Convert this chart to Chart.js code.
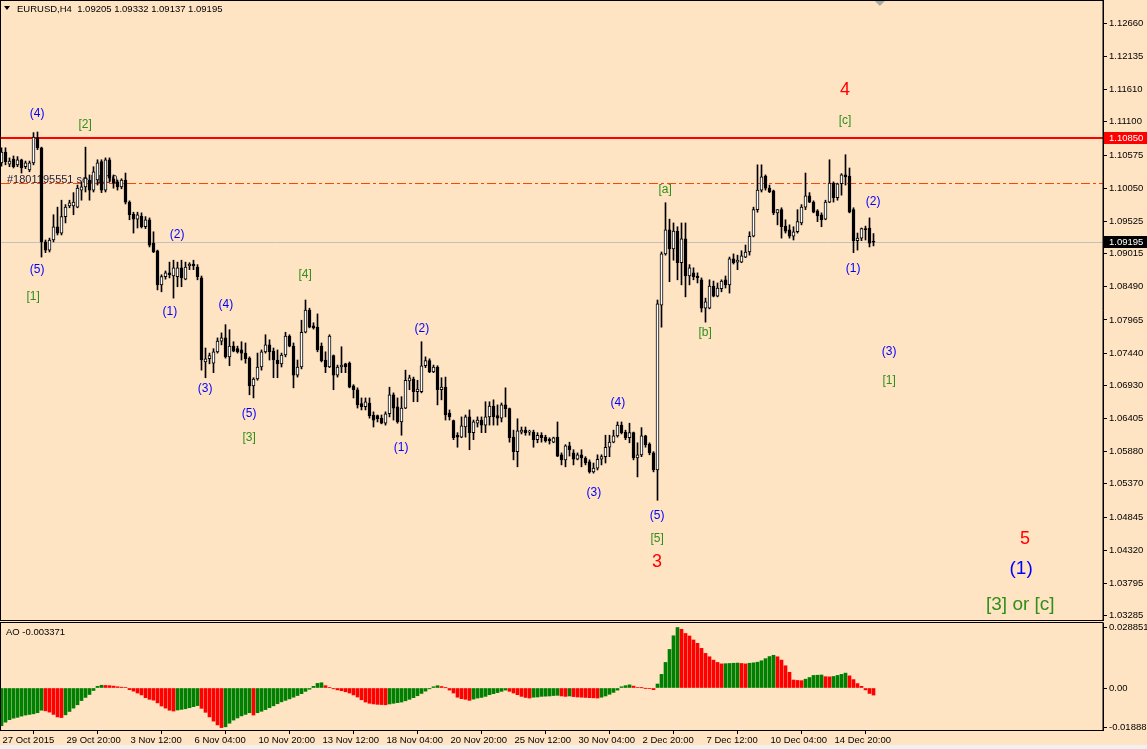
<!DOCTYPE html>
<html>
<head>
<meta charset="utf-8">
<title>EURUSD,H4</title>
<script src="https://cdn.jsdelivr.net/npm/chart.js@4.4.0/dist/chart.umd.min.js"></script>
<style>
    html, body { margin: 0; padding: 0; background: #ffe4c4; }
    body { width: 1147px; height: 749px; position: relative; overflow: hidden; }
    #priceChart { position: absolute; left: 0; top: 0; }
    #aoChart { position: absolute; left: 0; top: 621px; }
    #statusStrip { position: absolute; left: 0; top: 745px; width: 1147px; height: 4px; background: #f0f0f0; }
</style>
</head>
<body>
<canvas id="priceChart" width="1147" height="621"></canvas>
<canvas id="aoChart" width="1147" height="124"></canvas>
<div id="statusStrip"></div>
<script>
// H4 candles, 27 Oct 2015 04:00 onwards
const opens = [
    1.1045, 1.1062, 1.1043, 1.1051, 1.1042, 1.1050, 1.1039, 1.1034, 1.1045, 1.1085,
    1.1069, 1.0920, 1.0907, 1.0923, 1.0944, 1.0934, 1.0960, 1.0977, 1.0977, 1.0975,
    1.1002, 1.1007, 1.1018, 1.1002, 1.1018, 1.1047, 1.1002, 1.1050, 1.1020, 1.1015,
    1.1007, 1.1018, 1.0983, 1.0964, 1.0956, 1.0961, 1.0944, 1.0955, 1.0918, 1.0906,
    1.0852, 1.0865, 1.0871, 1.0866, 1.0865, 1.0879, 1.0861, 1.0882, 1.0885, 1.0880,
    1.0863, 1.0730, 1.0735, 1.0728, 1.0746, 1.0763, 1.0768, 1.0738, 1.0755, 1.0751,
    1.0749, 1.0744, 1.0736, 1.0692, 1.0703, 1.0722, 1.0746, 1.0757, 1.0747, 1.0733,
    1.0727, 1.0741, 1.0771, 1.0755, 1.0709, 1.0722, 1.0777, 1.0812, 1.0787, 1.0785,
    1.0755, 1.0733, 1.0722, 1.0740, 1.0709, 1.0722, 1.0727, 1.0728, 1.0692, 1.0686,
    1.0664, 1.0659, 1.0665, 1.0646, 1.0645, 1.0641, 1.0633, 1.0648, 1.0678, 1.0659,
    1.0635, 1.0657, 1.0700, 1.0703, 1.0683, 1.0683, 1.0724, 1.0732, 1.0714, 1.0722,
    1.0686, 1.0690, 1.0649, 1.0637, 1.0614, 1.0611, 1.0627, 1.0643, 1.0618, 1.0633,
    1.0638, 1.0630, 1.0643, 1.0660, 1.0645, 1.0641, 1.0662, 1.0656, 1.0611, 1.0588,
    1.0619, 1.0622, 1.0619, 1.0619, 1.0607, 1.0614, 1.0611, 1.0608, 1.0603, 1.0611,
    1.0583, 1.0575, 1.0597, 1.0586, 1.0576, 1.0583, 1.0578, 1.0572, 1.0556, 1.0562,
    1.0576, 1.0580, 1.0595, 1.0603, 1.0613, 1.0630, 1.0619, 1.0610, 1.0618, 1.0578,
    1.0583, 1.0613, 1.0600, 1.0586, 1.0559, 1.0820, 1.0901, 1.0939, 1.0909, 1.0937,
    1.0887, 1.0925, 1.0866, 1.0871, 1.0866, 1.0860, 1.0815, 1.0815, 1.0850, 1.0834,
    1.0846, 1.0860, 1.0852, 1.0893, 1.0888, 1.0888, 1.0896, 1.0904, 1.0929, 1.0971,
    1.1002, 1.1024, 1.1005, 1.1001, 1.0966, 1.0971, 1.0945, 1.0939, 1.0929, 1.0936,
    1.0950, 1.0975, 1.0993, 1.0983, 1.0969, 1.0963, 1.0956, 1.0983, 1.1013, 1.0990,
    1.1012, 1.1026, 1.1024, 1.0971, 1.0922, 1.0926, 1.0941, 1.0942, 1.09205
];
const highs = [
    1.1069, 1.1069, 1.1053, 1.1056, 1.1055, 1.1051, 1.1048, 1.1048, 1.1093, 1.1094,
    1.1070, 1.0923, 1.0926, 1.0963, 1.0975, 1.0986, 1.0979, 1.0986, 1.0998, 1.1010,
    1.1015, 1.1070, 1.1026, 1.1039, 1.1050, 1.1050, 1.1053, 1.1053, 1.1026, 1.1018,
    1.1020, 1.1029, 1.0985, 1.0967, 1.0967, 1.0966, 1.0960, 1.0958, 1.0936, 1.0907,
    1.0868, 1.0874, 1.0888, 1.0891, 1.0888, 1.0891, 1.0888, 1.0887, 1.0891, 1.0884,
    1.0866, 1.0752, 1.0744, 1.0751, 1.0768, 1.0776, 1.0789, 1.0781, 1.0762, 1.0755,
    1.0762, 1.0760, 1.0738, 1.0705, 1.0744, 1.0749, 1.0773, 1.0765, 1.0752, 1.0749,
    1.0744, 1.0777, 1.0773, 1.0760, 1.0733, 1.0796, 1.0828, 1.0815, 1.0792, 1.0806,
    1.0760, 1.0746, 1.0773, 1.0741, 1.0725, 1.0754, 1.0728, 1.0730, 1.0694, 1.0689,
    1.0673, 1.0673, 1.0673, 1.0651, 1.0646, 1.0646, 1.0651, 1.0690, 1.0681, 1.0673,
    1.0675, 1.0717, 1.0709, 1.0706, 1.0701, 1.0762, 1.0738, 1.0735, 1.0725, 1.0724,
    1.0705, 1.0706, 1.0654, 1.0638, 1.0618, 1.0643, 1.0646, 1.0654, 1.0638, 1.0643,
    1.0643, 1.0667, 1.0667, 1.0670, 1.0662, 1.0665, 1.0689, 1.0657, 1.0622, 1.0640,
    1.0627, 1.0627, 1.0622, 1.0622, 1.0618, 1.0618, 1.0614, 1.0610, 1.0611, 1.0635,
    1.0586, 1.0599, 1.0603, 1.0591, 1.0586, 1.0591, 1.0580, 1.0575, 1.0570, 1.0583,
    1.0583, 1.0614, 1.0614, 1.0622, 1.0635, 1.0635, 1.0622, 1.0633, 1.0619, 1.0602,
    1.0626, 1.0614, 1.0602, 1.0588, 1.0828, 1.0904, 1.0982, 1.0956, 1.0950, 1.0944,
    1.0950, 1.0950, 1.0884, 1.0879, 1.0871, 1.0863, 1.0831, 1.0860, 1.0858, 1.0855,
    1.0860, 1.0866, 1.0896, 1.0901, 1.0899, 1.0906, 1.0915, 1.0936, 1.0975, 1.1042,
    1.1042, 1.1026, 1.1010, 1.1002, 1.0971, 1.0974, 1.0955, 1.0947, 1.0944, 1.0971,
    1.0979, 1.1029, 1.0998, 1.0985, 1.0971, 1.0966, 1.0986, 1.1050, 1.1015, 1.1013,
    1.1028, 1.1058, 1.1037, 1.0974, 1.0934, 1.0942, 1.0945, 1.0958, 1.09332
];
const lows = [
    1.1040, 1.1042, 1.1039, 1.1037, 1.1039, 1.1029, 1.1036, 1.1031, 1.1042, 1.1066,
    1.0896, 1.0903, 1.0904, 1.0920, 1.0931, 1.0931, 1.0950, 1.0974, 1.0963, 1.0974,
    1.0986, 1.0999, 1.0986, 1.0999, 1.1010, 1.0998, 1.0999, 1.1015, 1.1005, 1.1002,
    1.1004, 1.0980, 1.0955, 1.0934, 1.0942, 1.0942, 1.0941, 1.0912, 1.0903, 1.0844,
    1.0841, 1.0861, 1.0863, 1.0831, 1.0849, 1.0849, 1.0860, 1.0876, 1.0876, 1.0860,
    1.0717, 1.0705, 1.0727, 1.0713, 1.0744, 1.0757, 1.0736, 1.0724, 1.0746, 1.0744,
    1.0733, 1.0728, 1.0678, 1.0673, 1.0701, 1.0717, 1.0744, 1.0733, 1.0705, 1.0705,
    1.0722, 1.0738, 1.0754, 1.0689, 1.0706, 1.0719, 1.0776, 1.0784, 1.0782, 1.0746,
    1.0730, 1.0713, 1.0721, 1.0686, 1.0706, 1.0713, 1.0713, 1.0689, 1.0673, 1.0657,
    1.0654, 1.0654, 1.0641, 1.0627, 1.0635, 1.0632, 1.0630, 1.0643, 1.0638, 1.0633,
    1.0614, 1.0656, 1.0686, 1.0667, 1.0667, 1.0681, 1.0721, 1.0713, 1.0713, 1.0662,
    1.0670, 1.0638, 1.0638, 1.0607, 1.0595, 1.0610, 1.0611, 1.0591, 1.0607, 1.0627,
    1.0618, 1.0618, 1.0630, 1.0630, 1.0630, 1.0635, 1.0643, 1.0603, 1.0575, 1.0564,
    1.0616, 1.0614, 1.0614, 1.0595, 1.0602, 1.0603, 1.0603, 1.0600, 1.0602, 1.0580,
    1.0567, 1.0564, 1.0581, 1.0567, 1.0575, 1.0564, 1.0567, 1.0554, 1.0554, 1.0559,
    1.0567, 1.0570, 1.0580, 1.0602, 1.0611, 1.0616, 1.0607, 1.0602, 1.0575, 1.0548,
    1.0580, 1.0595, 1.0583, 1.0556, 1.0511, 1.0785, 1.0899, 1.0857, 1.0891, 1.0860,
    1.0852, 1.0833, 1.0852, 1.0860, 1.0855, 1.0809, 1.0793, 1.0814, 1.0833, 1.0833,
    1.0841, 1.0847, 1.0839, 1.0885, 1.0876, 1.0887, 1.0895, 1.0899, 1.0928, 1.0967,
    1.0999, 1.1002, 1.0998, 1.0963, 1.0947, 1.0926, 1.0934, 1.0926, 1.0923, 1.0934,
    1.0947, 1.0971, 1.0982, 1.0966, 1.0952, 1.0944, 1.0955, 1.0982, 1.0983, 1.0986,
    1.0994, 1.1010, 1.0966, 1.0903, 1.0907, 1.0922, 1.0923, 1.0912, 1.09137
];
const closes = [
    1.1062, 1.1047, 1.1048, 1.1039, 1.1050, 1.1037, 1.1045, 1.1045, 1.1086, 1.1069,
    1.0920, 1.0907, 1.0923, 1.0944, 1.0934, 1.0960, 1.0975, 1.0982, 1.0983, 1.1005,
    1.1007, 1.1021, 1.1002, 1.1031, 1.1045, 1.1002, 1.1050, 1.1021, 1.1013, 1.1007,
    1.1018, 1.0983, 1.0963, 1.0956, 1.0963, 1.0944, 1.0955, 1.0915, 1.0904, 1.0852,
    1.0865, 1.0871, 1.0868, 1.0879, 1.0879, 1.0863, 1.0880, 1.0885, 1.0882, 1.0865,
    1.0733, 1.0735, 1.0740, 1.0746, 1.0763, 1.0768, 1.0738, 1.0755, 1.0747, 1.0746,
    1.0744, 1.0735, 1.0692, 1.0703, 1.0722, 1.0746, 1.0757, 1.0746, 1.0733, 1.0727,
    1.0741, 1.0771, 1.0755, 1.0709, 1.0722, 1.0777, 1.0812, 1.0785, 1.0784, 1.0749,
    1.0732, 1.0722, 1.0771, 1.0709, 1.0722, 1.0725, 1.0722, 1.0690, 1.0686, 1.0662,
    1.0659, 1.0667, 1.0645, 1.0638, 1.0640, 1.0633, 1.0648, 1.0678, 1.0657, 1.0635,
    1.0657, 1.0701, 1.0705, 1.0683, 1.0687, 1.0724, 1.0732, 1.0714, 1.0722, 1.0686,
    1.0690, 1.0646, 1.0643, 1.0610, 1.0611, 1.0629, 1.0643, 1.0618, 1.0635, 1.0638,
    1.0630, 1.0643, 1.0660, 1.0643, 1.0641, 1.0662, 1.0656, 1.0610, 1.0588, 1.0621,
    1.0622, 1.0618, 1.0619, 1.0607, 1.0614, 1.0610, 1.0605, 1.0605, 1.0610, 1.0581,
    1.0575, 1.0597, 1.0591, 1.0576, 1.0583, 1.0578, 1.0570, 1.0556, 1.0562, 1.0576,
    1.0580, 1.0595, 1.0603, 1.0613, 1.0630, 1.0618, 1.0610, 1.0618, 1.0578, 1.0583,
    1.0613, 1.0599, 1.0586, 1.0559, 1.0822, 1.0901, 1.0939, 1.0909, 1.0937, 1.0887,
    1.0925, 1.0866, 1.0879, 1.0865, 1.0863, 1.0815, 1.0825, 1.0850, 1.0834, 1.0847,
    1.0858, 1.0852, 1.0893, 1.0887, 1.0891, 1.0898, 1.0904, 1.0929, 1.0971, 1.1002,
    1.1023, 1.1005, 1.0999, 1.0966, 1.0971, 1.0944, 1.0937, 1.0929, 1.0936, 1.0952,
    1.0975, 1.0993, 1.0983, 1.0967, 1.0961, 1.0955, 1.0983, 1.1013, 1.0990, 1.1012,
    1.1026, 1.1023, 1.0967, 1.0922, 1.0926, 1.0941, 1.0939, 1.0918, 1.09195
];

// Awesome Oscillator, one value per candle
const aoValues = [
    -0.0180, -0.0163, -0.0151, -0.0144, -0.0140, -0.0134, -0.0129, -0.0126, -0.0123, -0.0118,
    -0.0106, -0.0109, -0.0115, -0.0126, -0.0138, -0.0141, -0.0128, -0.0112, -0.0096, -0.0080,
    -0.0060, -0.0045, -0.0031, -0.0012, 0.0008, 0.0013, 0.0012, 0.0011, 0.0009, 0.0006,
    0.0004, 0.0002, -0.0008, -0.0015, -0.0024, -0.0033, -0.0046, -0.0054, -0.0058, -0.0071,
    -0.0086, -0.0096, -0.0106, -0.0110, -0.0105, -0.0102, -0.0099, -0.0094, -0.0089, -0.0084,
    -0.0097, -0.0116, -0.0138, -0.0158, -0.0176, -0.01888, -0.0185, -0.0168, -0.0153, -0.0143,
    -0.0133, -0.0126, -0.0118, -0.0129, -0.0118, -0.0111, -0.0103, -0.0094, -0.0085, -0.0075,
    -0.0066, -0.0059, -0.0052, -0.0044, -0.0036, -0.0027, -0.0016, -0.0006, 0.0008, 0.0022,
    0.0025, 0.0011, 0.0003, -0.0004, -0.0009, -0.0013, -0.0018, -0.0024, -0.0033, -0.0043,
    -0.0056, -0.0067, -0.0073, -0.0076, -0.0078, -0.0079, -0.0080, -0.0076, -0.0073, -0.0070,
    -0.0067, -0.0061, -0.0054, -0.0046, -0.0037, -0.0026, -0.0015, -0.0004, 0.0006, 0.0011,
    0.0007, 0.0001, -0.0010, -0.0024, -0.0044, -0.0051, -0.0054, -0.0059, -0.0053, -0.0048,
    -0.0045, -0.0040, -0.0032, -0.0027, -0.0022, -0.0016, -0.0010, -0.0016, -0.0024, -0.0032,
    -0.0040, -0.0045, -0.0048, -0.0044, -0.0043, -0.0040, -0.0039, -0.0038, -0.0036, -0.0035,
    -0.0038, -0.0040, -0.0038, -0.0041, -0.0043, -0.0044, -0.0045, -0.0046, -0.0047, -0.0048,
    -0.0044, -0.0038, -0.0030, -0.0021, -0.0010, 0.0006, 0.0011, 0.0015, 0.0009, 0.0002,
    0.0001, -0.0001, -0.0003, -0.0008, 0.0019, 0.0065, 0.0122, 0.0184, 0.0249, 0.028851,
    0.0280, 0.0260, 0.0248, 0.0229, 0.0213, 0.0189, 0.0165, 0.0149, 0.0133, 0.0122,
    0.0115, 0.0116, 0.0117, 0.0118, 0.0119, 0.0117, 0.0115, 0.0118, 0.0120, 0.0123,
    0.0130, 0.0140, 0.0150, 0.0156, 0.0149, 0.0133, 0.0106, 0.0075, 0.0038, 0.0036,
    0.0035, 0.0042, 0.0050, 0.0060, 0.0061, 0.0062, 0.0054, 0.0053, 0.0055, 0.0060,
    0.0065, 0.0071, 0.0058, 0.0040, 0.0021, 0.0008, -0.0009, -0.0026, -0.003371
];

const timeLabels = [
    "27 Oct 2015", "29 Oct 20:00", "3 Nov 12:00", "6 Nov 04:00", "10 Nov 20:00",
    "13 Nov 12:00", "18 Nov 04:00", "20 Nov 20:00", "25 Nov 12:00", "30 Nov 04:00",
    "2 Dec 20:00", "7 Dec 12:00", "10 Dec 04:00", "14 Dec 20:00"
];
const barsPerTimeLabel = 16;

const priceTicks = [
    1.12660, 1.12135, 1.11610, 1.11100, 1.10575, 1.10050, 1.09525, 1.09015, 1.08490, 1.07965,
    1.07440, 1.06930, 1.06405, 1.05880, 1.05370, 1.04845, 1.04320, 1.03795, 1.03285
];
const aoTicks = [0.028851, 0, -0.01888];
const aoTickLabels = ["0.028851", "0.00", "-0.01888"];

const resistanceLevel = 1.10850;
const sellOrderPrice = 1.1013;
const sellOrderText = "#1801195551 sell 1.00";
const bidPrice = 1.09195;
const headerText = "EURUSD,H4  1.09205 1.09332 1.09137 1.09195";
const aoHeaderText = "AO -0.003371";

// Elliott wave marks: text, bar index, price, degree
const waveLabels = [
    ["(4)", 8.9, 1.1123, "minor"],
    ["[2]", 20.9, 1.1105, "intermediate"],
    ["(5)", 8.9, 1.0876, "minor"],
    ["[1]", 7.9, 1.0834, "intermediate"],
    ["(2)", 43.9, 1.0931, "minor"],
    ["(1)", 42.1, 1.0809, "minor"],
    ["(4)", 56.1, 1.0820, "minor"],
    ["[4]", 75.9, 1.0868, "intermediate"],
    ["(3)", 50.9, 1.0687, "minor"],
    ["(5)", 61.9, 1.0648, "minor"],
    ["[3]", 61.9, 1.0610, "intermediate"],
    ["(2)", 105.1, 1.0782, "minor"],
    ["(1)", 99.9, 1.0594, "minor"],
    ["(4)", 154.1, 1.0665, "minor"],
    ["(3)", 148.1, 1.0523, "minor"],
    ["(5)", 163.9, 1.0486, "minor"],
    ["[5]", 163.9, 1.0451, "intermediate"],
    ["3", 163.9, 1.0413, "primary"],
    ["[a]", 165.9, 1.1002, "intermediate"],
    ["[b]", 175.9, 1.0777, "intermediate"],
    ["4", 210.9, 1.1161, "primary"],
    ["[c]", 210.9, 1.1112, "intermediate"],
    ["(2)", 217.9, 1.0983, "minor"],
    ["(1)", 212.9, 1.0877, "minor"],
    ["(3)", 221.9, 1.0746, "minor"],
    ["[1]", 221.9, 1.0701, "intermediate"],
    ["5", 255.9, 1.0450, "primary"],
    ["(1)", 254.9, 1.0402, "minorBig"],
    ["[3] or [c]", 254.7, 1.0345, "intermediateBig"]
];

const FONT = "Liberation Sans";
const waveStyles = {
    minor: { color: "#0000ff", size: 12 },
    intermediate: { color: "#2f8f1a", size: 12 },
    primary: { color: "#ff0000", size: 18 },
    minorBig: { color: "#0000ff", size: 19 },
    intermediateBig: { color: "#2f8f1a", size: 19 }
};

Chart.defaults.font.family = FONT;

// shared horizontal axis: 4px per bar, leaves empty space on the right like the terminal
const xMin = -0.125;
const xMax = 275.375;
const axisWidth = 44;

function crisp(v) {
    return Math.round(v) + 0.5;
}

// keep edge tick labels from shrinking the plot area
function noEdgePadding(axis) {
    axis.paddingTop = 0;
    axis.paddingBottom = 0;
    axis.paddingLeft = 0;
    axis.paddingRight = 0;
}

const priceOverlay = {
    id: "priceOverlay",
    beforeDatasetsDraw(chart) {
        const { ctx, chartArea: area, scales: { y } } = chart;
        ctx.save();

        // bid line
        ctx.strokeStyle = "#c0c0c0";
        ctx.lineWidth = 1;
        ctx.beginPath();
        ctx.moveTo(area.left, crisp(y.getPixelForValue(bidPrice)));
        ctx.lineTo(area.right, crisp(y.getPixelForValue(bidPrice)));
        ctx.stroke();

        // order line + its label
        const sy = crisp(y.getPixelForValue(sellOrderPrice));
        ctx.strokeStyle = "#ff4500";
        ctx.setLineDash([9, 3, 3, 3]);
        ctx.beginPath();
        ctx.moveTo(area.left, sy);
        ctx.lineTo(area.right, sy);
        ctx.stroke();
        ctx.setLineDash([]);
        ctx.font = "11px " + FONT;
        ctx.fillStyle = "#1c1c3a";
        ctx.textAlign = "left";
        ctx.textBaseline = "bottom";
        ctx.fillText(sellOrderText, 7, sy + 2);

        // resistance line
        const ry = Math.round(y.getPixelForValue(resistanceLevel));
        ctx.fillStyle = "#ff0000";
        ctx.fillRect(area.left, ry - 1, area.right - area.left, 2);
        ctx.restore();
    },
    afterDatasetsDraw(chart) {
        const { ctx, scales: { x, y } } = chart;
        ctx.save();
        ctx.textAlign = "center";
        ctx.textBaseline = "middle";
        waveLabels.forEach(([text, idx, price, degree]) => {
            const style = waveStyles[degree];
            ctx.font = style.size + "px " + FONT;
            ctx.fillStyle = style.color;
            ctx.fillText(text, x.getPixelForValue(idx), y.getPixelForValue(price));
        });
        ctx.restore();
    },
    afterDraw(chart) {
        const { ctx, chartArea: area, scales: { x, y } } = chart;
        ctx.save();

        // frame
        ctx.strokeStyle = "#000000";
        ctx.lineWidth = 1;
        ctx.strokeRect(0.5, 0.5, area.right - 0.5, area.bottom);

        // price boxes on the axis
        const boxes = [[resistanceLevel, "#ff0000"], [bidPrice, "#000000"]];
        ctx.font = "9.5px " + FONT;
        ctx.textAlign = "left";
        ctx.textBaseline = "middle";
        boxes.forEach(([price, color]) => {
            const py = Math.round(y.getPixelForValue(price));
            ctx.fillStyle = color;
            ctx.fillRect(area.right + 1, py - 6, axisWidth, 12);
            ctx.fillStyle = "#ffffff";
            ctx.fillText(price.toFixed(5), area.right + 6, py);
        });

        // chart shift marker
        const mx = x.getPixelForValue(219.6);
        ctx.fillStyle = "#a8a8a8";
        ctx.beginPath();
        ctx.moveTo(mx - 5, 1);
        ctx.lineTo(mx + 5, 1);
        ctx.lineTo(mx, 6);
        ctx.closePath();
        ctx.fill();

        // symbol header
        ctx.fillStyle = "#000000";
        ctx.beginPath();
        ctx.moveTo(4, 6);
        ctx.lineTo(10, 6);
        ctx.lineTo(7, 10);
        ctx.closePath();
        ctx.fill();
        ctx.font = "9.5px " + FONT;
        ctx.fillText(headerText, 17, 9);
        ctx.restore();
    }
};

const aoOverlay = {
    id: "aoOverlay",
    afterDraw(chart) {
        const { ctx, chartArea: area } = chart;
        ctx.save();
        ctx.strokeStyle = "#000000";
        ctx.lineWidth = 1;
        ctx.strokeRect(0.5, area.top - 0.5, area.right - 0.5, area.bottom - area.top + 1);
        ctx.fillStyle = "#000000";
        ctx.font = "9.5px " + FONT;
        ctx.textAlign = "left";
        ctx.textBaseline = "middle";
        ctx.fillText(aoHeaderText, 6, area.top + 9);
        ctx.restore();
    }
};

const axisFont = { family: FONT, size: 9.5 };

const candleBodies = opens.map((o, i) => ({ x: i, y: [o, closes[i]] }));
const candleWicks = lows.map((l, i) => ({ x: i, y: [l, highs[i]] }));
const bodyColors = opens.map((o, i) => (closes[i] >= o ? "#ffffff" : "#000000"));

new Chart(document.getElementById("priceChart"), {
    type: "bar",
    data: {
        datasets: [
            {
                label: "bodies",
                data: candleBodies,
                backgroundColor: bodyColors,
                borderColor: "#000000",
                borderWidth: 1,
                borderSkipped: false,
                barThickness: 3,
                minBarLength: 1,
                grouped: false,
                order: 0
            },
            {
                label: "wicks",
                data: candleWicks,
                backgroundColor: "#000000",
                barThickness: 1,
                grouped: false,
                order: 1
            }
        ]
    },
    options: {
        responsive: false,
        animation: false,
        layout: { padding: { left: 1, top: 0, right: 0, bottom: 1 }, autoPadding: false },
        plugins: { legend: { display: false }, tooltip: { enabled: false } },
        scales: {
            x: { type: "linear", min: xMin, max: xMax, offset: false, display: false },
            y: {
                position: "right",
                min: 1.03215,
                max: 1.13029,
                afterFit: axis => {
                    axis.width = axisWidth;
                    noEdgePadding(axis);
                },
                afterBuildTicks: axis => { axis.ticks = priceTicks.map(v => ({ value: v })); },
                ticks: {
                    callback: value => value.toFixed(5),
                    font: axisFont,
                    color: "#000000",
                    padding: 2,
                    autoSkip: false
                },
                grid: { drawOnChartArea: false, tickLength: 4, color: "#000000" },
                border: { color: "#000000" }
            }
        }
    },
    plugins: [priceOverlay]
});

// AO bars: green when rising, red when falling
const aoColors = [];
aoValues.forEach((v, i) => {
    if (i === 0 || v > aoValues[i - 1]) {
        aoColors.push("#008000");
    } else if (v < aoValues[i - 1]) {
        aoColors.push("#ff0000");
    } else {
        aoColors.push(aoColors[i - 1]);
    }
});

new Chart(document.getElementById("aoChart"), {
    type: "bar",
    data: {
        datasets: [{
            label: "AO",
            data: aoValues.map((v, i) => ({ x: i, y: v })),
            backgroundColor: aoColors,
            barThickness: 3
        }]
    },
    options: {
        responsive: false,
        animation: false,
        layout: { padding: { left: 1, top: 2, right: 0, bottom: 0 }, autoPadding: false },
        plugins: { legend: { display: false }, tooltip: { enabled: false } },
        scales: {
            x: {
                type: "linear",
                min: xMin,
                max: xMax,
                offset: false,
                afterFit: axis => {
                    axis.height = 15;
                    noEdgePadding(axis);
                },
                afterBuildTicks: axis => {
                    axis.ticks = timeLabels.map((_, k) => ({ value: k * barsPerTimeLabel }));
                },
                ticks: {
                    callback: value => timeLabels[Math.round(value / barsPerTimeLabel)],
                    align: "start",
                    labelOffset: 1,
                    font: axisFont,
                    color: "#000000",
                    padding: 1,
                    maxRotation: 0,
                    autoSkip: false
                },
                grid: { drawOnChartArea: false, tickLength: 4, color: "#000000" },
                border: { color: "#000000" }
            },
            y: {
                position: "right",
                min: -0.020028,
                max: 0.030996,
                afterFit: axis => {
                    axis.width = axisWidth;
                    noEdgePadding(axis);
                },
                afterBuildTicks: axis => { axis.ticks = aoTicks.map(v => ({ value: v })); },
                ticks: {
                    callback: (value, index) => aoTickLabels[index],
                    font: axisFont,
                    color: "#000000",
                    padding: 2,
                    autoSkip: false
                },
                grid: { drawOnChartArea: false, tickLength: 4, color: "#000000" },
                border: { color: "#000000" }
            }
        }
    },
    plugins: [aoOverlay]
});
</script>
</body>
</html>
